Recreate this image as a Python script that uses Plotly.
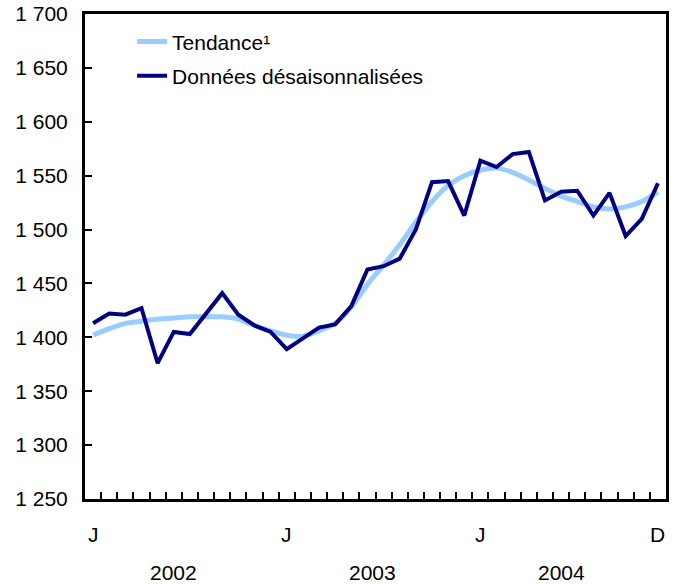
import plotly.graph_objects as go

# Monthly data, Jan 2002 - Dec 2004
months = ["2002-01","2002-02","2002-03","2002-04","2002-05","2002-06","2002-07","2002-08","2002-09","2002-10","2002-11","2002-12",
          "2003-01","2003-02","2003-03","2003-04","2003-05","2003-06","2003-07","2003-08","2003-09","2003-10","2003-11","2003-12",
          "2004-01","2004-02","2004-03","2004-04","2004-05","2004-06","2004-07","2004-08","2004-09","2004-10","2004-11","2004-12"]

tendance = [1402, 1408, 1413, 1415, 1417, 1418, 1419, 1419, 1419, 1417, 1411, 1406,
            1402, 1401, 1406, 1413, 1428, 1449, 1467, 1486, 1507, 1526, 1541, 1550,
            1555, 1557, 1553, 1546, 1538, 1531, 1526, 1521, 1519, 1521, 1526, 1535]

desaison = [1413, 1422, 1421, 1427, 1376, 1405, 1403, 1422, 1441, 1421, 1411, 1405,
            1389, 1399, 1409, 1412, 1429, 1463, 1466, 1473, 1500, 1544, 1545, 1513,
            1564, 1558, 1570, 1572, 1527, 1535, 1536, 1513, 1534, 1494, 1510, 1543]

y_tickvals = [1250, 1300, 1350, 1400, 1450, 1500, 1550, 1600, 1650, 1700]
y_ticktext = ["1 250", "1 300", "1 350", "1 400", "1 450", "1 500", "1 550", "1 600", "1 650", "1 700"]

month_label_idx = [0, 12, 24, 35]
month_labels = ["J", "J", "J", "D"]
year_pos = [5.0, 17.3, 29.0]
year_labels = ["2002", "2003", "2004"]

FONT = "Liberation Sans, Arial, Helvetica, sans-serif"
FS = 21

x = list(range(len(months)))

fig = go.Figure()
fig.add_trace(go.Scatter(x=x, y=tendance, mode="lines", name="Tendance¹",
                         line=dict(color="#99CCFF", width=5, shape="spline", smoothing=0.6),
                         legendgroup="a"))
fig.add_trace(go.Scatter(x=x, y=desaison, mode="lines", name="Données désaisonnalisées",
                         line=dict(color="#000080", width=4), legendgroup="b"))

annotations = []
for i, t in zip(month_label_idx, month_labels):
    annotations.append(dict(x=i, y=0, xref="x", yref="paper", text=t, showarrow=False,
                            yanchor="middle", yshift=-35, font=dict(family=FONT, size=FS, color="black")))
for p, t in zip(year_pos, year_labels):
    annotations.append(dict(x=p, y=0, xref="x", yref="paper", text=t, showarrow=False,
                            yanchor="middle", yshift=-73, font=dict(family=FONT, size=FS, color="black")))

boundaries = [i - 0.5 for i in range(len(months) + 1)]

fig.update_layout(
    template=None,
    width=677, height=584,
    autosize=False,
    margin=dict(l=85, r=11, t=14, b=85, autoexpand=False),
    paper_bgcolor="white", plot_bgcolor="white",
    font=dict(family=FONT, size=FS, color="black"),
    showlegend=True,
    legend=dict(x=0.081, y=0.985, xanchor="left", yanchor="top",
                bgcolor="rgba(0,0,0,0)", traceorder="grouped", tracegroupgap=4,
                font=dict(family=FONT, size=FS, color="black")),
    annotations=annotations,
    xaxis=dict(range=[-0.5, len(months) - 0.5], tickmode="array", tickvals=boundaries,
               ticktext=[""] * len(boundaries), ticks="inside", ticklen=7, tickwidth=2,
               tickcolor="black", showline=True, linecolor="black", linewidth=3,
               mirror=True, showgrid=False, zeroline=False, automargin=False),
    yaxis=dict(range=[1250, 1700], tickmode="array", tickvals=y_tickvals, ticktext=y_ticktext,
               ticks="inside", ticklen=7, tickwidth=2, tickcolor="black",
               showline=True, linecolor="black", linewidth=3, mirror=True,
               showgrid=False, zeroline=False, ticklabelstandoff=10, automargin=False,
               ticklabeloverflow="allow"),
)

# Remove the default 8px page margin so the figure fills the 677x584 window exactly.
fig.write_html("out.html", config={"displayModeBar": False},
               post_script="document.body.style.margin='0px';document.body.style.overflow='hidden';")
